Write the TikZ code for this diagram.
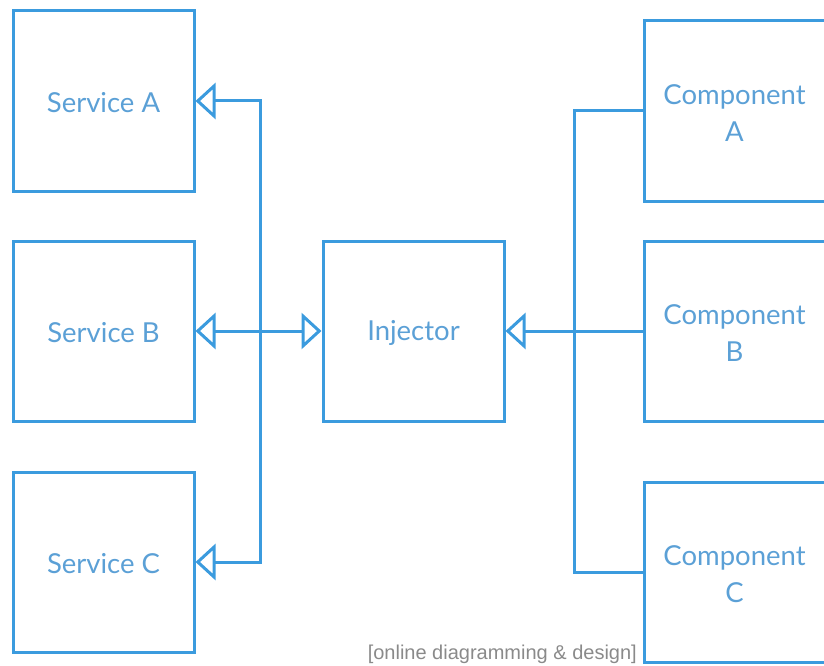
\documentclass[tikz,border=0pt]{standalone}
\usepackage{fontspec}
\setmainfont{Lato}
\newfontfamily\footfont{Liberation Sans}
\usetikzlibrary{arrows.meta}
\definecolor{lineblue}{HTML}{3B9BDE}
\definecolor{textblue}{HTML}{5BA0D6}
\definecolor{footgray}{HTML}{8A8A8A}
\newcommand{\lowr}[1]{\raisebox{-2pt}[\height][\depth]{#1}}
\begin{document}
\begin{tikzpicture}[x=1pt,y=-1pt,
  box/.style={draw=lineblue, line width=3pt, minimum width=181pt, minimum height=180pt, inner sep=0pt,
    text=textblue, font=\fontsize{27.5}{37}\selectfont, align=center},
  conn/.style={draw=lineblue, line width=3pt},
  opentip/.style={-{Triangle[open, length=20pt, width=36pt]}}
]
\useasboundingbox (0,0) rectangle (824,666);
\node[box] (SA) at (103.5,101) {\lowr{Service A}};
\node[box] (SB) at (103.5,331) {\lowr{Service B}};
\node[box] (SC) at (103.5,562) {\lowr{Service C}};
\node[box] (INJ) at (413.5,331) {\lowr{Injector}};
\node[box] (CA) at (734.5,111) {\lowr{Component}\\\lowr{A}};
\node[box] (CB) at (734.5,331) {\lowr{Component}\\\lowr{B}};
\node[box] (CC) at (734.5,572) {\lowr{Component}\\\lowr{C}};
\coordinate (JL) at (260,331);
\coordinate (JR) at (574,331);
\draw[conn, opentip] (JL) |- (SA.east);
\draw[conn, opentip] (JL) |- (SC.east);
\draw[conn, opentip] (JL) -- (SB.east);
\draw[conn, opentip] (JL) -- (INJ.west);
\draw[conn] (CA.west) -| (JR);
\draw[conn] (CC.west) -| (JR);
\draw[conn, opentip] (CB.west) -- (INJ.east);
\node[anchor=base east, text=footgray, font=\footfont\fontsize{20}{23}\selectfont, inner sep=0pt] (FT) at (637,659) {[online diagramming \& design]};
\end{tikzpicture}
\end{document}
